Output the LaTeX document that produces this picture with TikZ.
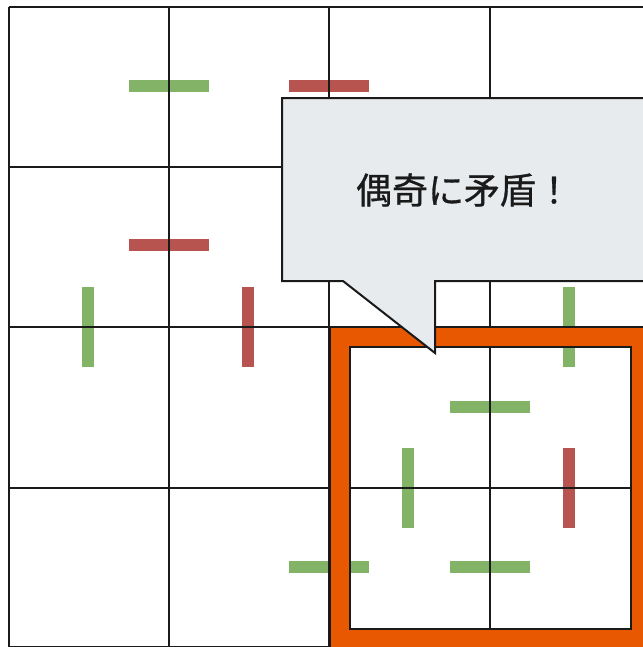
\documentclass[tikz,border=0pt]{standalone}
\usepackage{fontspec}
\newfontfamily\cjkjp[FakeBold=0.8]{Noto Sans CJK JP}
\definecolor{bargreen}{HTML}{82B366}
\definecolor{barred}{HTML}{B85450}
\definecolor{frameorange}{HTML}{E85800}
\definecolor{calloutfill}{HTML}{E7EBED}
\definecolor{gridline}{HTML}{1A1A1A}
\tikzset{
  gridln/.style={draw=gridline, line width=1.6pt},
  gbar/.style={fill=bargreen, draw=none},
  rbar/.style={fill=barred, draw=none},
  callout/.style={fill=calloutfill, draw=gridline, line width=1.5pt, line join=miter},
  ring/.style={fill=frameorange, even odd rule, draw=none},
  ringborder/.style={draw=gridline, line width=1.6pt},
}
% horizontal bar centred at (#1,#2), vertical bar centred at (#1,#2)
\newcommand{\hbarx}[3]{\path[#3] (#1-40,#2-6) rectangle (#1+40,#2+6);}
\newcommand{\vbarx}[3]{\path[#3] (#1-6,#2-40) rectangle (#1+6,#2+40);}
\begin{document}
\begin{tikzpicture}[x=0.75pt,y=-0.75pt]
\useasboundingbox (0,0) rectangle (643,647);
\clip (0,0) rectangle (643,647);
\fill[white] (0,0) rectangle (643,647);
% bars
\hbarx{169}{86}{gbar}
\hbarx{329}{86}{rbar}
\hbarx{169}{245}{rbar}
\vbarx{88}{327}{gbar}
\vbarx{248}{327}{rbar}
\vbarx{569}{327}{gbar}
\hbarx{490}{407}{gbar}
\vbarx{408}{488}{gbar}
\vbarx{569}{488}{rbar}
\hbarx{490}{567}{gbar}
\hbarx{329}{567}{gbar}
% grid
\foreach \gx in {9,169,329,490} \draw[gridln] (\gx,7) -- (\gx,648);
\foreach \gy in {7,167,327,488} \draw[gridln] (9,\gy) -- (652,\gy);
\draw[gridln] (9,647.5) -- (652,647.5);
% orange frame
\path[ring] (330,327) rectangle (652,650) (350,347) rectangle (631,629);
\draw[ringborder] (350,347) rectangle (631,629);
\draw[ringborder] (330,327) -- (330,650);
\draw[ringborder] (330,327) -- (652,327);
% callout
\draw[callout] (282,98) -- (660,98) -- (660,281) -- (435,281) -- (435,353) -- (343,281) -- (282,281) -- cycle;
\node[font=\cjkjp\fontsize{27pt}{32pt}\selectfont, text=gridline] (msg) at (464,190) {偶奇に矛盾！};
\end{tikzpicture}
\end{document}
